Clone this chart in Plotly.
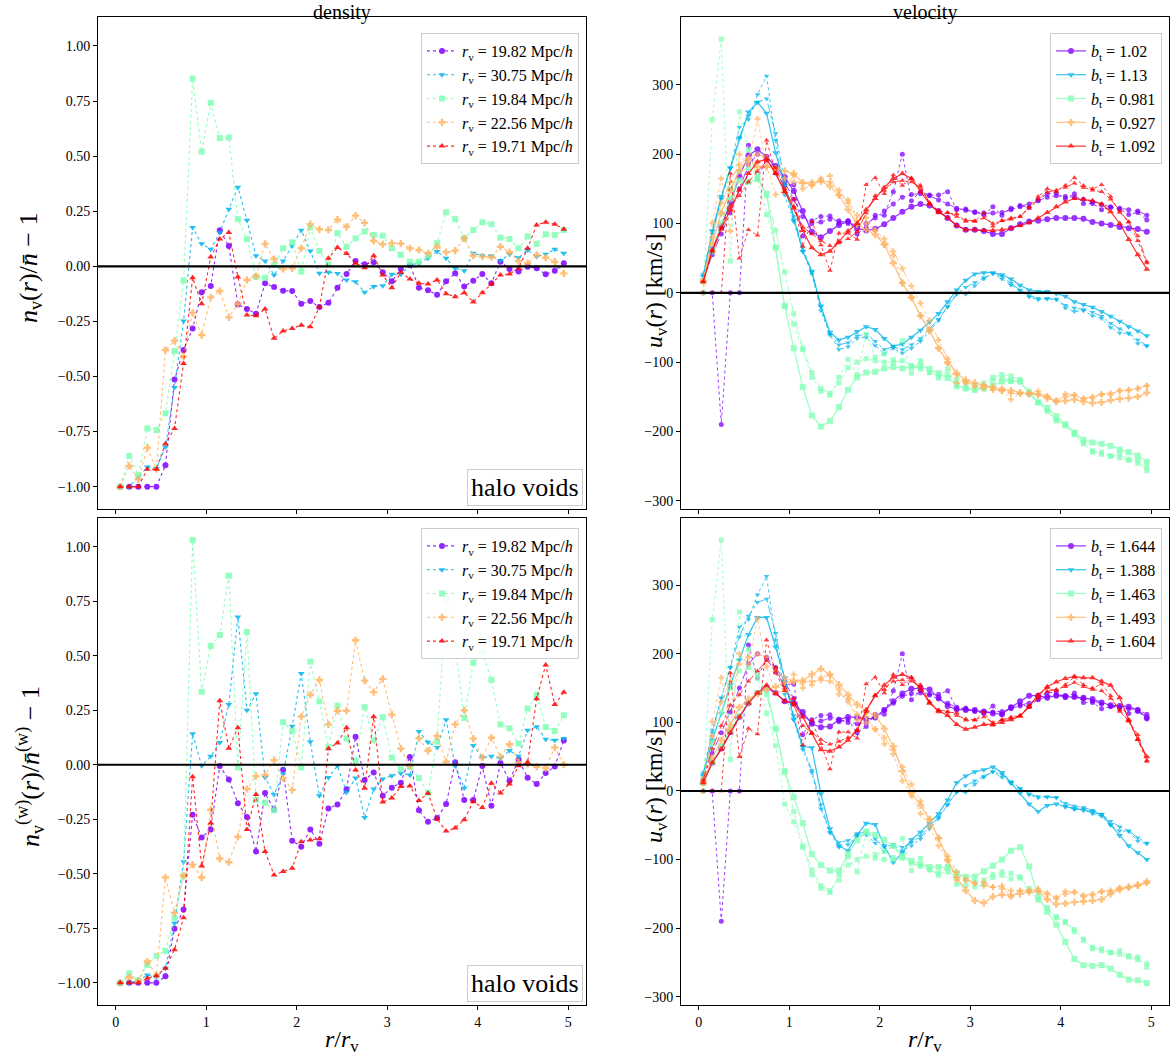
import plotly.graph_objects as go

# ---------------- data ----------------
R_BINS = [0.05, 0.15, 0.25, 0.35, 0.45, 0.55, 0.65, 0.75, 0.85, 0.95,
          1.05, 1.15, 1.25, 1.35, 1.45, 1.55, 1.65, 1.75, 1.85, 1.95,
          2.05, 2.15, 2.25, 2.35, 2.45, 2.55, 2.65, 2.75, 2.85, 2.95,
          3.05, 3.15, 3.25, 3.35, 3.45, 3.55, 3.65, 3.75, 3.85, 3.95,
          4.05, 4.15, 4.25, 4.35, 4.45, 4.55, 4.65, 4.75, 4.85, 4.95]

RV_LABELS = ["19.82", "30.75", "19.84", "22.56", "19.71"]
BT_TOP = ["1.02", "1.13", "0.981", "0.927", "1.092"]
BT_BOT = ["1.644", "1.388", "1.463", "1.493", "1.604"]
X_TICKS = [0, 1, 2, 3, 4, 5]
DENS_TICKS = [-1, -0.75, -0.5, -0.25, 0, 0.25, 0.5, 0.75, 1]
VEL_TICKS = [-300, -200, -100, 0, 100, 200, 300]

# density (top-left)
dens_purple = [-1.0, -1.0, -1.0, -1.0, -1.0, -0.903, -0.514, -0.38, -0.282, -0.118,
               -0.089, 0.164, 0.092, -0.173, -0.194, -0.215, -0.077, -0.094, -0.111, -0.112,
               -0.170, -0.158, -0.185, -0.165, -0.097, -0.035, 0.024, 0.009, 0.018, -0.027,
               -0.068, -0.012, 0.006, -0.097, -0.109, -0.129, -0.068, -0.032, -0.092, -0.065,
               -0.035, -0.077, 0.021, -0.012, -0.024, -0.002, -0.009, -0.036, -0.020, 0.014]
dens_cyan = [-1.0, -1.0, -0.956, -0.911, -0.918, -0.82, -0.55, -0.248, 0.176, 0.102,
             0.077, 0.153, 0.259, 0.359, 0.209, 0.048, 0.024, -0.039, 0.024, 0.092,
             0.164, 0.070, -0.032, -0.027, -0.033, -0.062, -0.070, -0.118, -0.092, -0.088,
             -0.036, -0.036, 0.006, 0.014, 0.036, 0.067, 0.036, -0.009, -0.020, 0.059,
             0.048, 0.047, 0.026, 0.055, 0.039, 0.074, 0.044, 0.055, 0.077, 0.059]
dens_green = [-1.0, -0.861, -0.948, -0.736, -0.744, -0.668, -0.385, -0.064, 0.852, 0.52,
              0.742, 0.582, 0.585, 0.214, 0.123, -0.048, -0.052, 0.006, 0.082, 0.109,
              -0.024, 0.176, 0.070, 0.009, 0.150, 0.089, 0.127, 0.158, 0.142, 0.139,
              0.082, 0.052, 0.021, 0.021, 0.048, 0.105, 0.245, 0.214, 0.127, 0.165,
              0.20, 0.191, 0.130, 0.124, 0.082, 0.135, 0.102, 0.145, 0.142, 0.165]
dens_orange = [-1.0, -0.906, -0.967, -0.823, -0.921, -0.38, -0.338, -0.41, -0.211, -0.312,
               -0.141, -0.112, -0.232, -0.171, -0.062, -0.044, 0.102, 0.033, -0.012, -0.009,
               0.082, 0.191, 0.168, 0.165, 0.212, 0.179, 0.230, 0.197, 0.115, 0.100,
               0.105, 0.103, 0.082, 0.074, 0.059, 0.089, 0.064, 0.071, 0.127, 0.048,
               0.044, 0.041, 0.089, 0.064, 0.024, 0.014, 0.052, 0.039, 0.021, -0.032]
dens_red = [-1.0, -1.0, -1.0, -0.921, -0.921, -0.805, -0.736, -0.441, -0.052, -0.170,
            0.042, 0.124, 0.153, -0.048, -0.221, -0.224, -0.194, -0.327, -0.294, -0.282,
            -0.267, -0.274, -0.185, 0.036, 0.085, 0.058, 0.014, -0.006, 0.048, -0.039,
            -0.097, -0.027, -0.058, -0.077, -0.080, -0.062, -0.124, -0.138, -0.120, -0.162,
            -0.120, -0.080, -0.039, -0.035, -0.009, 0.082, 0.188, 0.20, 0.191, 0.168]

# weighted density (bottom-left)
wdens_purple = [-1.0, -1.0, -1.0, -1.0, -1.0, -0.97, -0.752, -0.664, -0.229, -0.333,
                -0.297, -0.006, -0.067, -0.176, -0.239, -0.398, -0.130, -0.205, -0.023, -0.348,
                -0.376, -0.297, -0.362, -0.2, -0.182, -0.112, 0.129, -0.07, -0.035, -0.142,
                -0.105, -0.082, 0.036, -0.209, -0.261, -0.244, -0.18, 0.011, -0.161, -0.161,
                -0.006, -0.188, 0.008, -0.073, 0.024, -0.059, -0.088, -0.038, -0.008, 0.111]
wdens_cyan = [-1.0, -1.0, -0.99, -0.964, -0.974, -0.933, -0.727, -0.445, 0.142, -0.005,
              0.039, 0.102, 0.276, 0.677, 0.25, 0.326, -0.058, -0.136, -0.042, 0.177,
              0.418, 0.105, -0.142, -0.058, -0.005, -0.126, -0.061, -0.242, -0.111, -0.065,
              -0.05, -0.039, -0.047, 0.152, 0.103, 0.079, 0.206, -0.005, -0.106, 0.088,
              0.033, 0.039, 0.029, 0.065, 0.039, 0.158, 0.174, 0.117, 0.112, 0.12]
wdens_green = [-1.0, -0.956, -0.99, -0.918, -0.876, -0.853, -0.702, -0.509, 1.03, 0.335,
               0.545, 0.595, 0.867, -0.012, 0.609, -0.161, -0.174, -0.209, 0.195, 0.155,
               -0.012, 0.473, 0.291, 0.082, 0.271, 0.12, 0.018, 0.264, 0.112, 0.218,
               0.033, -0.021, -0.009, -0.061, -0.129, 0.106, 0.76, 0.55, 0.215, 0.468,
               0.518, 0.389, 0.185, 0.167, 0.098, 0.258, 0.321, 0.173, 0.155, 0.227]
wdens_orange = [-1.0, -0.974, -0.99, -0.902, -0.964, -0.517, -0.679, -0.509, -0.458, -0.517,
                -0.206, -0.430, -0.447, -0.33, -0.111, -0.052, -0.047, 0.021, -0.062, -0.115,
                0.221, 0.321, 0.389, 0.185, 0.248, 0.248, 0.571, 0.386, 0.333, 0.394,
                0.23, 0.074, -0.005, 0.121, 0.064, 0.132, 0.014, 0.185, 0.25, 0.12,
                0.033, 0.124, 0.036, 0.094, 0.011, 0.003, -0.009, -0.015, 0.079, 0.0]
wdens_red = [-1.0, -1.0, -1.0, -0.979, -0.967, -0.933, -0.848, -0.702, -0.055, -0.464,
             -0.267, 0.294, 0.076, 0.17, -0.297, -0.136, -0.398, -0.505, -0.489, -0.474,
             -0.353, -0.345, -0.339, 0.074, 0.1, 0.17, -0.024, -0.108, 0.220, -0.171,
             -0.152, -0.1, -0.097, -0.164, -0.131, -0.249, -0.304, -0.29, -0.252, -0.169,
             -0.196, -0.085, -0.129, -0.088, -0.005, 0.011, 0.303, 0.458, 0.276, 0.332]

# measured velocity, dotted (same in both velocity panels)
vel_purple = [0, 0, -190, 0, 0, 213, 165, 193, 173, 155,
              156, 82, 104, 110, 111, 101, 104, 85, 94, 112,
              112, 146, 200, 133, 146, 141, 141, 146, 120, 121,
              116, 113, 124, 112, 122, 126, 123, 134, 143, 144,
              136, 143, 129, 129, 120, 123, 121, 113, 116, 105]
vel_cyan = [27, 89, 136, 180, 239, 250, 286, 313, 220, 141,
            103, 60, 27, -26, -61, -82, -78, -66, -64, -76,
            -88, -80, -87, -80, -70, -55, -40, -20, -1, -2,
            10, 20, 28, 20, 11, 3, -6, -10, -9, -9,
            -22, -27, -26, -33, -37, -50, -58, -59, -73, -77]
vel_green = [0, 250, 366, 46, 261, 206, 164, 113, 66, -19,
             -45, -82, -122, -142, -148, -122, -96, -118, -60, -93,
             -88, -97, -69, -116, -98, -115, -123, -110, -136, -138,
             -140, -136, -126, -123, -128, -127, -146, -159, -171, -185,
             -190, -202, -216, -230, -230, -235, -233, -240, -242, -257]
vel_orange = [0, 101, 165, 89, 200, 185, 251, 182, 142, 147,
              170, 150, 155, 165, 169, 141, 134, 104, 108, 90,
              69, 54, 15, -7, -33, -52, -80, -102, -130, -128,
              -134, -133, -140, -138, -154, -145, -145, -142, -149, -157,
              -146, -147, -154, -152, -147, -147, -141, -141, -138, -134]
vel_red = [0, 0, 0, 172, 50, 91, 83, 220, 173, 146,
           135, 67, 103, 69, 32, 86, 86, 77, 156, 166,
           143, 170, 155, 165, 155, 129, 115, 115, 114, 103,
           103, 115, 96, 104, 108, 110, 124, 139, 150, 146,
           155, 166, 155, 150, 156, 139, 116, 102, 75, 43]

# second velocity estimate, dash-dot (same in both velocity panels)
vel2_purple = [17, 55, 85, 115, 150, 185, 200, 195, 180, 160,
               135, 110, 100, 102, 106, 104, 100, 98, 100, 108,
               118, 128, 138, 142, 143, 140, 134, 128, 122, 119,
               117, 115, 115, 116, 120, 124, 128, 133, 138, 140,
               139, 138, 135, 131, 127, 124, 122, 120, 118, 112]
vel2_cyan = [24, 85, 135, 180, 225, 255, 275, 280, 230, 160,
             110, 65, 30, -20, -60, -75, -72, -62, -60, -70,
             -82, -78, -82, -75, -66, -52, -38, -20, -2, 8,
             15, 22, 28, 24, 14, 4, -4, -8, -8, -10,
             -18, -22, -24, -28, -34, -44, -52, -58, -68, -76]
vel2_green = [17, 70, 115, 150, 175, 180, 170, 140, 90, 30,
              -30, -80, -115, -138, -145, -130, -108, -100, -95, -98,
              -100, -100, -98, -105, -110, -115, -120, -118, -125, -130,
              -133, -130, -122, -118, -120, -125, -142, -158, -170, -183,
              -192, -205, -218, -228, -233, -236, -238, -242, -246, -252]
vel2_orange = [17, 80, 130, 160, 185, 195, 200, 195, 175, 165,
               160, 158, 160, 162, 160, 148, 130, 112, 100, 90,
               78, 60, 35, 10, -15, -40, -68, -95, -118, -130,
               -135, -138, -140, -142, -145, -146, -145, -146, -150, -155,
               -150, -148, -152, -150, -146, -145, -142, -140, -138, -134]
vel2_red = [16, 62, 95, 125, 140, 160, 175, 190, 180, 150,
            125, 95, 85, 75, 68, 72, 78, 88, 115, 140,
            148, 160, 162, 160, 152, 130, 118, 116, 110, 105,
            104, 108, 100, 104, 106, 110, 122, 135, 145, 148,
            152, 158, 152, 148, 146, 135, 118, 102, 82, 45]

# model velocity from density (solid), top-right
mod_top_purple = [17, 62, 96, 130, 168, 198, 207, 196, 183, 167,
                  147, 118, 88, 80, 89, 98, 103, 93, 90, 92,
                  99, 108, 117, 124, 128, 126, 118, 108, 97, 91,
                  91, 89, 85, 85, 93, 99, 103, 104, 106, 108,
                  108, 108, 107, 102, 100, 98, 95, 93, 92, 88]
mod_top_cyan = [24, 89, 139, 180, 223, 261, 275, 259, 202, 155,
                105, 60, 31, -19, -57, -68, -64, -56, -49, -53,
                -66, -77, -74, -64, -54, -42, -30, -13, 4, 18,
                27, 29, 29, 26, 20, 11, 4, 2, 2, -1,
                -5, -13, -17, -21, -27, -34, -41, -49, -55, -62]
mod_top_green = [17, 60, 100, 136, 162, 160, 164, 143, 65, -19,
                 -80, -136, -177, -193, -185, -165, -140, -122, -115, -114,
                 -109, -107, -109, -107, -105, -110, -116, -123, -133, -138,
                 -140, -138, -134, -128, -127, -128, -145, -158, -166, -178,
                 -190, -202, -212, -216, -218, -221, -226, -230, -235, -244]
mod_top_orange = [17, 72, 115, 148, 177, 193, 182, 182, 179, 176,
                  172, 159, 156, 161, 154, 141, 120, 99, 91, 84,
                  70, 43, 14, -7, -33, -55, -80, -100, -116, -126,
                  -130, -134, -136, -140, -141, -144, -146, -147, -152, -157,
                  -156, -154, -157, -159, -158, -155, -153, -152, -150, -144]
mod_top_red = [16, 60, 92, 120, 148, 172, 189, 193, 172, 146,
               122, 90, 65, 55, 60, 74, 89, 100, 120, 136,
               152, 165, 172, 165, 146, 128, 117, 108, 97, 91,
               91, 90, 90, 91, 93, 97, 101, 108, 116, 124,
               131, 136, 135, 133, 128, 117, 100, 77, 55, 34]

# model velocity from weighted density (solid), bottom-right
mod_bot_purple = [12, 41, 62, 86, 108, 128, 143, 150, 143, 131,
                  128, 115, 98, 93, 94, 104, 108, 107, 105, 107,
                  118, 131, 142, 149, 150, 148, 136, 124, 119, 118,
                  118, 116, 113, 112, 122, 131, 139, 139, 136, 139,
                  138, 137, 136, 134, 129, 125, 124, 123, 118, 107]
mod_bot_cyan = [22, 74, 113, 155, 191, 228, 253, 253, 210, 165,
                105, 65, 63, -4, -55, -80, -87, -64, -47, -49,
                -80, -104, -90, -71, -60, -47, -33, -13, 12, 22,
                28, 31, 35, 27, 12, -3, -19, -30, -21, -19,
                -23, -25, -28, -30, -34, -49, -65, -80, -90, -100]
mod_bot_green = [12, 42, 65, 89, 109, 129, 143, 148, 91, 28,
                 -9, -47, -92, -108, -116, -116, -92, -72, -59, -64,
                 -71, -80, -95, -102, -107, -111, -111, -112, -120, -125,
                 -125, -117, -109, -100, -87, -82, -110, -154, -176, -195,
                 -220, -245, -254, -255, -254, -259, -268, -275, -276, -280]
mod_bot_orange = [12, 48, 74, 96, 122, 134, 142, 148, 152, 158,
                  160, 161, 170, 178, 170, 155, 140, 126, 116, 110,
                  91, 65, 29, -3, -21, -42, -69, -100, -126, -145,
                  -160, -163, -154, -151, -152, -150, -147, -146, -158, -165,
                  -164, -162, -161, -160, -158, -150, -144, -140, -137, -132]
mod_bot_red = [12, 41, 61, 85, 108, 128, 143, 154, 142, 131,
               128, 108, 84, 60, 58, 64, 74, 89, 118, 139,
               154, 166, 170, 165, 148, 128, 117, 110, 97, 90,
               93, 97, 97, 100, 104, 109, 123, 140, 152, 159,
               164, 167, 165, 165, 160, 154, 136, 104, 75, 50]

# ---------------- styling ----------------
COLORS = ["rgb(128,0,255)", "rgb(0,181,235)", "rgb(128,255,180)",
          "rgb(255,180,98)", "rgb(255,0,0)"]
SYMBOLS = ["circle", "triangle-down", "square", "cross", "triangle-up"]
FONT = "Liberation Serif"
W, H = 1175, 1064

DENS = [dens_purple, dens_cyan, dens_green, dens_orange, dens_red]
WDENS = [wdens_purple, wdens_cyan, wdens_green, wdens_orange, wdens_red]
VEL = [vel_purple, vel_cyan, vel_green, vel_orange, vel_red]
VEL2 = [vel2_purple, vel2_cyan, vel2_green, vel2_orange, vel2_red]
MOD_TOP = [mod_top_purple, mod_top_cyan, mod_top_green, mod_top_orange, mod_top_red]
MOD_BOT = [mod_bot_purple, mod_bot_cyan, mod_bot_green, mod_bot_orange, mod_bot_red]

fig = go.Figure()


def add(y, i, xa, ya, dash, width, msize, opacity, name=None, legend=None):
    fig.add_trace(go.Scatter(
        x=R_BINS, y=y, xaxis=xa, yaxis=ya, mode="lines+markers",
        line=dict(color=COLORS[i], dash=dash, width=width),
        marker=dict(color=COLORS[i], symbol=SYMBOLS[i], size=msize, line=dict(width=0)),
        opacity=opacity, name=name or "", showlegend=name is not None,
        legend=legend or "legend"))


for i in range(5):
    lab = "<i>r</i><sub>v</sub> = " + RV_LABELS[i] + " Mpc/<i>h</i>"
    add(DENS[i], i, "x", "y", "dot", 1.1, 6, 0.85, lab, "legend")
    add(WDENS[i], i, "x3", "y3", "dot", 1.1, 6, 0.85, lab, "legend3")

for i in range(5):
    for xa, ya, mod, bts, lg in (("x2", "y2", MOD_TOP, BT_TOP, "legend2"),
                                 ("x4", "y4", MOD_BOT, BT_BOT, "legend4")):
        add(VEL[i], i, xa, ya, "dot", 1.0, 5, 0.75)
        add(VEL2[i], i, xa, ya, "dashdot", 1.0, 5, 0.75)
        add(mod[i], i, xa, ya, "solid", 1.2, 6, 0.8,
            "<i>b</i><sub>t</sub> = " + bts[i], lg)

# zero lines
for xa, ya in (("x", "y"), ("x2", "y2"), ("x3", "y3"), ("x4", "y4")):
    fig.add_shape(type="line", xref=xa + " domain", yref=ya, x0=0, x1=1, y0=0, y1=0,
                  line=dict(color="black", width=2.2), layer="above")

XL = [98 / W, 586 / W]
XR = [681 / W, 1169 / W]
YT = [1 - 509 / H, 1 - 17 / H]
YB = [1 - 1005 / H, 1 - 518 / H]
XRANGE = [-0.195, 5.195]
YDENS = [-1.1015, 1.1315]
YVEL = [-312, 398]

axis_common = dict(showgrid=False, zeroline=False, showline=True, linecolor="black",
                   linewidth=1, mirror=True, ticks="outside", ticklen=4, automargin=False,
                   tickcolor="black", tickfont=dict(family=FONT, size=14, color="black"))

fig.update_layout(
    width=W, height=H, margin=dict(l=0, r=0, t=0, b=0, pad=0),
    plot_bgcolor="white", paper_bgcolor="white",
    font=dict(family=FONT, color="black"),
    xaxis=dict(domain=XL, range=XRANGE, anchor="y", showticklabels=False,
               tickvals=X_TICKS, **axis_common),
    xaxis2=dict(domain=XR, range=XRANGE, anchor="y2", showticklabels=False,
                tickvals=X_TICKS, **axis_common),
    xaxis3=dict(domain=XL, range=XRANGE, anchor="y3", tickvals=X_TICKS, **axis_common),
    xaxis4=dict(domain=XR, range=XRANGE, anchor="y4", tickvals=X_TICKS, **axis_common),
    yaxis=dict(domain=YT, range=YDENS, anchor="x", tickvals=DENS_TICKS,
               tickformat=".2f", **axis_common),
    yaxis3=dict(domain=YB, range=YDENS, anchor="x3", tickvals=DENS_TICKS,
                tickformat=".2f", **axis_common),
    yaxis2=dict(domain=YT, range=YVEL, anchor="x2", tickvals=VEL_TICKS, **axis_common),
    yaxis4=dict(domain=YB, range=YVEL, anchor="x4", tickvals=VEL_TICKS, **axis_common),
)

leg_common = dict(bgcolor="rgba(255,255,255,0.85)", bordercolor="#cccccc", borderwidth=1,
                  font=dict(family=FONT, size=16, color="black"), xanchor="right",
                  yanchor="top", tracegroupgap=0, itemwidth=30)
fig.update_layout(
    legend=dict(x=579 / W, y=1 - 33 / H, **leg_common),
    legend3=dict(x=579 / W, y=1 - 528 / H, **leg_common),
    legend2=dict(x=1162 / W, y=1 - 33 / H, **leg_common),
    legend4=dict(x=1162 / W, y=1 - 528 / H, **leg_common),
)


def text(t, xp, yp, size, angle=0):
    fig.add_annotation(text=t, x=xp / W, y=1 - yp / H, xref="paper", yref="paper",
                       xanchor="center", yanchor="middle", showarrow=False, textangle=angle,
                       font=dict(family=FONT, size=size, color="black"))


# titles
text("density", 342, 13, 20)
text("velocity", 925, 13, 20)

# axis titles
text("<i>r</i>/<i>r</i><sub>v</sub>", 342, 1041, 24)
text("<i>r</i>/<i>r</i><sub>v</sub>", 925, 1041, 24)
text("<i>n</i><sub>v</sub>(<i>r</i>)/<i>n̄</i> − 1", 30, 268, 26, -90)
text("<i>n</i><sub>v</sub><sup>(w)</sup>(<i>r</i>)/<i>n̄</i><sup>(w)</sup> − 1", 30, 767, 26, -90)
text("<i>u</i><sub>v</sub>(<i>r</i>) [km/s]", 656, 291, 24, -90)
text("<i>u</i><sub>v</sub>(<i>r</i>) [km/s]", 656, 786, 24, -90)

# halo voids labels
for xa, ya in (("x", "y"), ("x3", "y3")):
    fig.add_annotation(text="halo voids", xref=xa + " domain", yref=ya + " domain",
                       x=0.993, y=0.006, xanchor="right", yanchor="bottom", showarrow=False,
                       bordercolor="#cccccc", borderwidth=1, borderpad=3, bgcolor="white",
                       font=dict(family=FONT, size=26, color="black"))

fig.write_html("out.html", config={"displayModeBar": False},
               post_script="document.body.style.margin='0';document.body.style.overflow='hidden';")
